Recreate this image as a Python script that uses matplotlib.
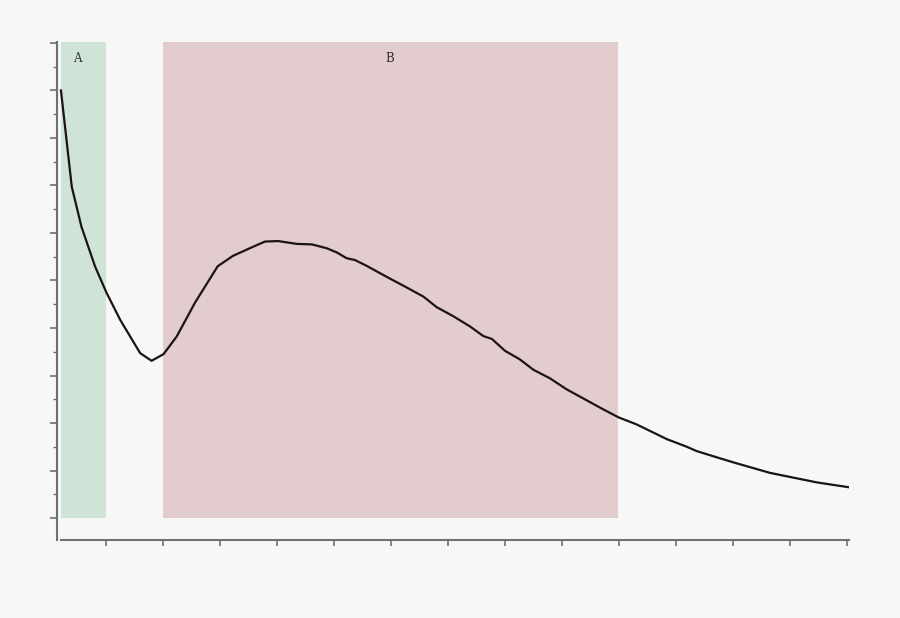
import matplotlib
matplotlib.use("Agg")
import matplotlib.pyplot as plt

# curve
xs = [0.21, 0.40, 0.57, 0.81, 1.01, 1.25, 1.60, 1.80, 2.01, 2.24, 2.56, 2.96,
      3.23, 3.58, 3.79, 4.02, 4.35, 4.61, 4.87, 5.05, 5.22, 5.37, 5.57, 5.92,
      6.28, 6.57, 6.80, 7.09, 7.39, 7.62, 7.77, 8.00, 8.26, 8.50, 8.79, 9.08,
      9.43, 9.72, 9.99, 10.31, 10.84, 11.19, 11.36, 11.71, 12.01, 12.65, 13.47, 14.02]
ys = [9.00, 6.97, 6.13, 5.29, 4.74, 4.17, 3.47, 3.31, 3.45, 3.82, 4.53, 5.30,
      5.52, 5.71, 5.82, 5.83, 5.77, 5.76, 5.68, 5.59, 5.47, 5.43, 5.31, 5.08,
      4.85, 4.66, 4.44, 4.25, 4.03, 3.83, 3.77, 3.52, 3.34, 3.12, 2.94, 2.71,
      2.48, 2.29, 2.12, 1.97, 1.66, 1.50, 1.41, 1.28, 1.17, 0.95, 0.75, 0.65]

# shaded regions
regions = ["A", "B"]
region_start = [0.21, 2.0]
region_end = [1.0, 9.98]
label_x = [0.5, 5.98]
region_colors = ["#cfe3d7", "#e2cccd"]

bg = "#f7f7f7"
fig = plt.figure(figsize=(9, 6.18), dpi=100, facecolor=bg)
ax = fig.add_axes([0.0633, 0.1262, 0.88, 0.8058], facecolor=bg)

for name, a, b, lx, c in zip(regions, region_start, region_end, label_x, region_colors):
    ax.fill_between([a, b], 0, 10.02, color=c, linewidth=0, zorder=0)
    ax.text(lx, 9.67, name, family="DejaVu Serif", fontsize=8.5, color="#333333",
            ha="center", va="center")

ax.plot(xs, ys, color="#1a1414", lw=1.6, zorder=3)

ax.set_xlim(0.14, 14.035)
ax.set_ylim(-0.463, 10.02)

for s in ["top", "right"]:
    ax.spines[s].set_visible(False)
for s in ["left", "bottom"]:
    ax.spines[s].set_color("#707070")
    ax.spines[s].set_linewidth(1.5)
ax.spines["bottom"].set_bounds(0.21, 14.035)

ax.set_xticks(range(1, 15))
ax.set_yticks(range(0, 11))
ax.set_yticks([i + 0.5 for i in range(10)], minor=True)
ax.set_xticklabels([])
ax.set_yticklabels([])
ax.tick_params(axis="x", direction="out", length=4, width=1.2, color="#707070")
ax.tick_params(axis="y", which="major", direction="out", length=5, width=1.2, color="#707070")
ax.tick_params(axis="y", which="minor", direction="out", length=3, width=1.0, color="#707070")

fig.savefig("out.png", dpi=100, facecolor=bg)
